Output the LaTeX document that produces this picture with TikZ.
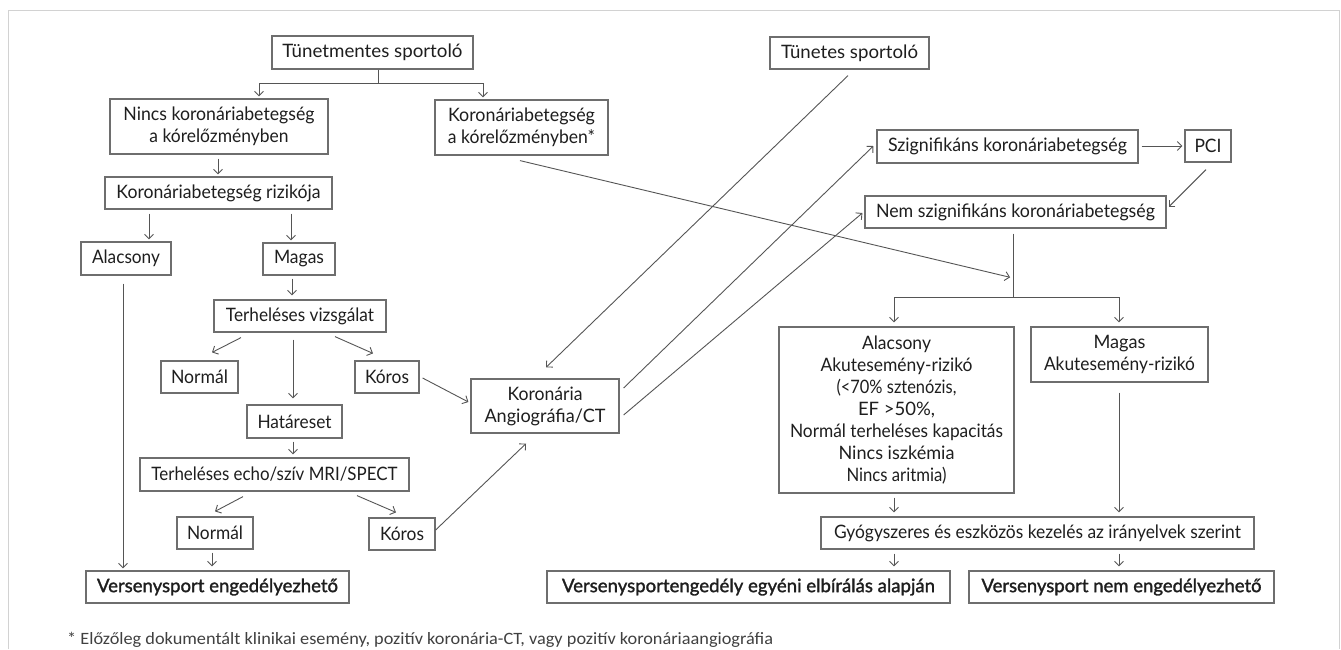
\documentclass[tikz,border=0pt]{standalone}
\usepackage{graphicx}
\usepackage{fontspec}
\setmainfont{Lato}
\newfontfamily\notefont{Carlito}
\newfontfamily\semib[FakeBold=1.5]{Lato}
\usetikzlibrary{arrows.meta,calc}
\definecolor{boxline}{HTML}{6E6E6E}
\definecolor{arrline}{HTML}{555555}
\definecolor{txt}{HTML}{1E1E1E}
\definecolor{frame}{HTML}{D2D2D2}
% fit a line of text to a given width, keeping its height
\newcommand{\fw}[2]{\resizebox{#1pt}{\height}{#2}}
\begin{document}
\begin{tikzpicture}[x=1pt,y=-1pt,
  box/.style={draw=boxline, line width=1.2pt, inner sep=0pt, align=center, text=txt,
    font=\fontsize{18.5}{22}\selectfont},
  bx/.style 2 args={box, minimum width=#1pt, minimum height=#2pt},
  bold/.style={font=\semib\fontsize{18.5}{22}\selectfont},
  ln/.style={draw=arrline, line width=0.9pt},
  arr/.style={ln, -{Straight Barb[length=4.5pt,width=9pt]}}
]
\useasboundingbox (0,0) rectangle (1341,649);
\fill[white] (0,0) rectangle (1341,649);
\draw[frame, line width=1pt] (8,649) -- (8,10) -- (1339,10) -- (1339,649);

% left branch
\node[bx={201}{33}] (t1) at (372.5,52.5) {\fw{180}{Tünetmentes sportoló}};
\node[bx={218}{55}] (nincs) at (219,126.5) {\fw{191}{Nincs koronáriabetegség}\\\fw{139}{a kórelőzményben}};
\node[bx={173}{55}] (kor) at (521.5,127.5) {\fw{147}{Koronáriabetegség}\\\fw{147}{a kórelőzményben*}};
\node[bx={227}{32}] (riz) at (218.5,193) {\fw{204}{Koronáriabetegség rizikója}};
\node[bx={90}{33}] (alac) at (126,258.5) {\fw{68}{Alacsony}};
\node[bx={72}{32}] (mag) at (299,259) {\fw{50}{Magas}};
\node[bx={172}{32}] (terh) at (300,316) {\fw{148}{Terheléses vizsgálat}};
\node[bx={77}{32}] (norm1) at (199.5,377) {\fw{57}{Normál}};
\node[bx={64}{32}] (koros1) at (387,377) {\fw{44}{Kóros}};
\node[bx={95}{33}] (hat) at (294.5,421.5) {\fw{74}{Határeset}};
\node[bx={269}{33}] (echo) at (274.5,474.5) {\fw{246}{Terheléses echo/szív MRI/SPECT}};
\node[bx={76}{32}] (norm2) at (215,533) {\fw{56}{Normál}};
\node[bx={66}{32}] (koros2) at (402,534) {\fw{44}{Kóros}};
\node[bx={263}{32}, bold] (vse) at (217.5,587) {\fw{241}{Versenysport engedélyezhető}};
\node[bx={148}{54}] (angio) at (545,406) {\fw{75}{Koronária}\\\fw{121}{Angiográfia/CT}};

% right branch
\node[bx={159}{32}] (tun) at (849.5,53) {\fw{137}{Tünetes sportoló}};
\node[bx={261}{33}] (szig) at (1007.5,146.5) {\fw{239}{Szignifikáns koronáriabetegség}};
\node[bx={46}{32}] (pci) at (1208,146) {\fw{27}{PCI}};
\node[bx={301}{32}] (nem) at (1015.5,212) {\fw{279}{Nem szignifikáns koronáriabetegség}};
\node[bx={235}{166}] (lowr) at (896.5,410) {\fw{69}{Alacsony}\\\fw{152}{Akutesemény-rizikó}\\\fw{120}{(<70\% sztenózis,}\\\fw{77}{EF >50\%,}\\\fw{213}{Normál terheléses kapacitás}\\\fw{116}{Nincs iszkémia}\\\fw{100}{Nincs aritmia)}};
\node[bx={177}{55}] (highr) at (1119.5,354.5) {\fw{52}{Magas}\\\fw{151}{Akutesemény-rizikó}};
\node[bx={433}{32}] (gyo) at (1037.5,533) {\fw{407}{Gyógyszeres és eszközös kezelés az irányelvek szerint}};
\node[bx={403}{32}, bold] (vsea) at (748.5,587) {\fw{373}{Versenysportengedély egyéni elbírálás alapján}};
\node[bx={305}{32}, bold] (vsnem) at (1121.5,587) {\fw{280}{Versenysport nem engedélyezhető}};

\node[anchor=west, inner sep=0pt, text=txt!85, font=\notefont\fontsize{17.3}{20}\selectfont] (note) at (67,640)
  {\fw{706}{* Előzőleg dokumentált klinikai esemény, pozitív koronária-CT, vagy pozitív koronáriaangiográfia}};

\coordinate (split) at (1013,297);
\coordinate (join) at (1013,278);

% connectors, left
\draw[ln] ($(t1.south)+(5.5,0)$) -- ++(0,14) coordinate (tsplit);
\draw[arr] (tsplit) -| ($(nincs.north)+(40,-2)$);
\draw[arr] (tsplit) -| ($(kor.north)+(-38.5,-2)$);
\draw[arr] ($(nincs.south)+(-1,4)$) -- ($(riz.north)+(-0.5,-2)$);
\draw[arr] ($(riz.south)+(-69.5,4)$) -- ($(alac.north)+(23,-2)$);
\draw[arr] ($(riz.south)+(72.5,4)$) -- ($(mag.north)+(-8,-2)$);
\draw[arr] ($(alac.south)+(-3,8)$) -- ($(vse.north)+(-94.5,-2)$);
\draw[arr] ($(mag.south)+(-7,3)$) -- ($(terh.north)+(-8,-4)$);
\draw[arr] ($(terh.south)+(-59,5)$) -- ($(norm1.north)+(12.5,-8)$);
\draw[arr] ($(terh.south)+(-7,7)$) -- ($(hat.north)+(-1.5,-6)$);
\draw[arr] ($(terh.south)+(35,4)$) -- ($(koros1.north)+(-14,-7)$);
\draw[arr] ($(hat.south)+(-1.5,3)$) -- ($(echo.north)+(18.5,-3)$);
\draw[arr] ($(echo.south)+(-31.5,5)$) -- ($(norm2.north)+(0,-5)$);
\draw[arr] ($(echo.south)+(82.5,4)$) -- ($(koros2.north)+(-6,-5)$);
\draw[arr] ($(norm2.south)+(-3,3)$) -- ($(vse.north)+(-5.5,-4)$);
\draw[arr] ($(koros1.east)+(3,1)$) -- ($(angio.west)+(-2,-4)$);
\draw[arr] ($(koros2.east)+(0,-4)$) -- ($(angio.south)+(-19,10)$);

% connectors, right
\draw[arr] ($(tun.south)+(-1.5,6)$) -- ($(angio.north)+(1,-11)$);
\draw[arr] ($(angio.east)+(4,-18)$) -- ($(szig.west)+(-3,-0.5)$);
\draw[arr] ($(angio.east)+(4,9)$) -- ($(nem.west)+(-2,1)$);
\draw[arr, shorten >=3pt] ($(kor.south)+(-1.5,5)$) -- (join);
\draw[arr] ($(szig.east)+(3,-0.5)$) -- ($(pci.west)+(-2,0)$);
\draw[arr] ($(pci.south)+(-2,7)$) -- ($(nem.east)+(2,-5)$);
\draw[ln] ($(nem.south)+(-2.5,5)$) -- (split);
\draw[arr] (split) -| ($(lowr.north)+(-2.5,-4)$);
\draw[arr] (split) -| ($(highr.north)+(-0.5,-4)$);
\draw[arr] ($(lowr.south)+(-2.5,4)$) -- ($(gyo.north)+(-143.5,-4)$);
\draw[arr] ($(highr.south)+(-0.5,10)$) -- ($(gyo.north)+(81.5,-4)$);
\draw[arr] ($(gyo.south)+(-143.5,4)$) -- ($(vsea.north)+(145.5,-4)$);
\draw[arr] ($(gyo.south)+(81.5,4)$) -- ($(vsnem.north)+(-2.5,-4)$);
\end{tikzpicture}
\end{document}
